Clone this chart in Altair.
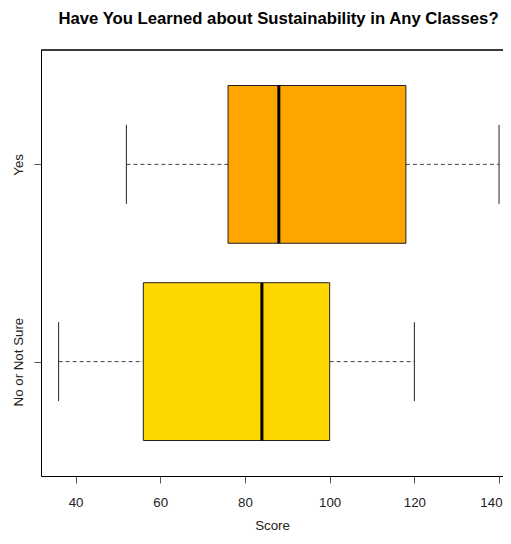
import altair as alt
import pandas as pd

groups = ["No or Not Sure", "Yes"]
positions = [1, 2]
whisker_low = [36, 52]
q1 = [56, 76]
median = [84, 88]
q3 = [100, 118]
whisker_high = [120, 140]
fills = ["#FFD700", "#FFA500"]
tick_values = [40, 60, 80, 100, 120, 140]

df = pd.DataFrame({
    "group": groups, "pos": positions, "lo": whisker_low, "q1": q1,
    "med": median, "q3": q3, "hi": whisker_high, "fill": fills,
})

W, H = 462, 426
xscale = alt.Scale(domain=[31.84, 140.93], nice=False, zero=False)
yscale = alt.Scale(domain=[0.42, 2.58], nice=False, zero=False)

FONT = "Liberation Sans"

base = alt.Chart(df).transform_calculate(
    b0="datum.pos - 0.4", b1="datum.pos + 0.4",
    c0="datum.pos - 0.2", c1="datum.pos + 0.2",
)

xaxis = alt.Axis(values=tick_values, title="Score", grid=False,
                 domainColor="black", tickColor="#555", tickSize=7,
                 labelPadding=12, labelFontSize=13.3, titleFontSize=13.3,
                 titleFontWeight="normal", titlePadding=10, labelFont=FONT,
                 titleFont=FONT, labelColor="#222", titleColor="#222",
                 labelFlush=False,
                 labelAlign={"condition": {"test": "datum.value == 140", "value": "right"},
                             "value": "center"},
                 labelOffset={"condition": {"test": "datum.value == 140", "value": 3},
                              "value": 0})
yaxis = alt.Axis(values=[1, 2], title=None, grid=False, domainColor="black",
                 tickColor="#555", tickSize=7, labelPadding=12,
                 labelAngle=270, labelAlign="center", labelBaseline="alphabetic",
                 labelFontSize=13.3, labelFont=FONT, labelColor="#222",
                 labelExpr="datum.value == 1 ? 'No or Not Sure' : 'Yes'")

whisk_lo = base.mark_rule(color="#444", strokeDash=[4, 3], strokeWidth=1).encode(
    x=alt.X("lo:Q", scale=xscale, axis=xaxis),
    x2="q1:Q",
    y=alt.Y("pos:Q", scale=yscale, axis=yaxis),
)
whisk_hi = base.mark_rule(color="#444", strokeDash=[4, 3], strokeWidth=1).encode(
    x=alt.X("q3:Q", scale=xscale), x2="hi:Q", y=alt.Y("pos:Q", scale=yscale),
)
cap_lo = base.mark_rule(color="#222", strokeWidth=1).encode(
    x=alt.X("lo:Q", scale=xscale), y=alt.Y("c0:Q", scale=yscale), y2="c1:Q",
)
cap_hi = base.mark_rule(color="#222", strokeWidth=1).encode(
    x=alt.X("hi:Q", scale=xscale), y=alt.Y("c0:Q", scale=yscale), y2="c1:Q",
)
box = base.mark_rect(stroke="#222", strokeWidth=1).encode(
    x=alt.X("q1:Q", scale=xscale), x2="q3:Q",
    y=alt.Y("b0:Q", scale=yscale), y2="b1:Q",
    fill=alt.Fill("fill:N", scale=None),
)
med = base.mark_rule(color="black", strokeWidth=3).encode(
    x=alt.X("med:Q", scale=xscale), y=alt.Y("b0:Q", scale=yscale), y2="b1:Q",
)
top_border = alt.Chart(df).mark_rule(color="black", strokeWidth=1).encode(
    x=alt.value(0), x2=alt.value(W), y=alt.value(0),
)

chart = alt.layer(whisk_lo, whisk_hi, cap_lo, cap_hi, box, med, top_border).properties(
    width=W, height=H,
    title=alt.TitleParams("Have You Learned about Sustainability in Any Classes?",
                          font=FONT, fontSize=16.7, fontWeight="bold", color="black",
                          anchor="middle", frame="group", dx=6.5, offset=22),
    autosize=alt.AutoSizeParams(type="none"),
    padding={"left": 33, "top": 42, "right": 0, "bottom": 60},
).configure_view(stroke=None).configure(background="white")

chart.save("out.html", embed_options={"renderer": "svg", "actions": False})
